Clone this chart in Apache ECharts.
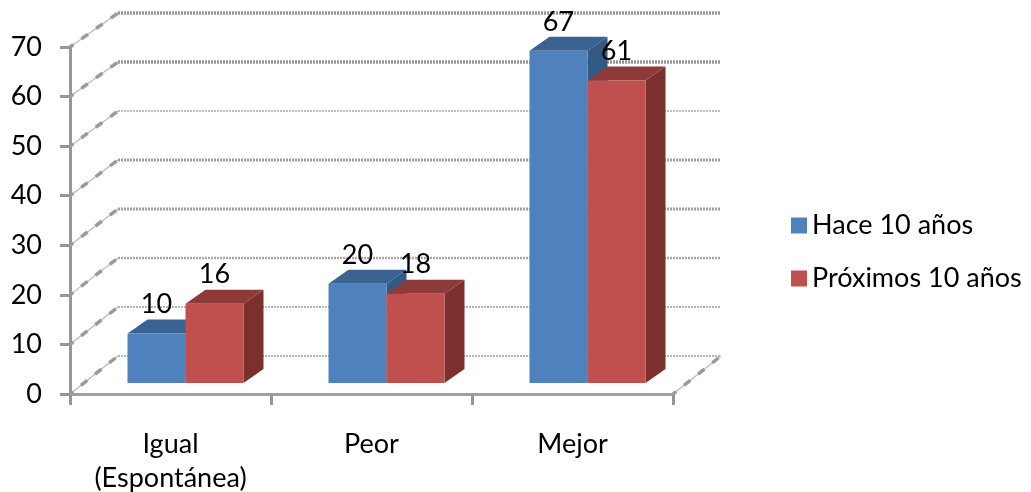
<!DOCTYPE html>
<html>
<head>
<meta charset="utf-8">
<style>html,body{margin:0;padding:0;background:#fff}#c{width:1031px;height:492px}</style>
<script src="https://cdn.jsdelivr.net/npm/echarts@6/dist/echarts.min.js"></script>
</head>
<body>
<div id="c"></div>
<script>
const categories = ["Igual\n(Espontánea)", "Peor", "Mejor"];
const hace = [10, 20, 67];
const proximos = [16, 18, 61];
const ticks = [0, 10, 20, 30, 40, 50, 60, 70];
const gridWidths = [2, 2, 2.5, 3, 3, 1.5, 3.5, 3.5];
const gridColors = ["#b4b4b4", "#b4b4b4", "#a8a8a8", "#a0a0a0", "#a0a0a0", "#a8a8a8", "#969696", "#969696"];

const FONT = "Lato";
const BACK = [48, -38], SHIFT = [15, -11], DEPTH = [20, -14], BAR = 58;
const BACK_SQUEEZE = 4 / 70;

function wall(params, api) {
  const i = params.dataIndex;
  const v = api.value(1);
  const band = api.size([1, 0])[0];
  const c0 = api.coord([0, v]);
  const x0 = c0[0] - band / 2;
  const y = c0[1];
  const x1 = x0 + band * categories.length;
  const yb = y + BACK[1] + v * BACK_SQUEEZE;
  const diag = (xa) => [
    { type: 'line', shape: { x1: xa, y1: y, x2: xa + BACK[0], y2: yb },
      style: { stroke: "#b8b8b8", lineWidth: 1.2 } },
    { type: 'line', shape: { x1: xa, y1: y, x2: xa + BACK[0], y2: yb },
      style: { stroke: "#9a9a9a", lineWidth: 3.5, lineDash: [8, 10], lineDashOffset: -14 } }
  ];
  const kids = [
    { type: 'line', shape: { x1: x0 + BACK[0], y1: yb, x2: x1 + BACK[0], y2: yb },
      style: { stroke: gridColors[i], lineWidth: gridWidths[i], lineDash: [2, 1] } }
  ].concat(diag(x0));
  if (v === 0) kids.push(...diag(x1));
  return { type: 'group', children: kids };
}

function bar3d(side, front, topC, sideC) {
  return function (params, api) {
    const idx = api.value(0), v = api.value(1);
    const top = api.coord([idx, v]);
    const base = api.coord([idx, 0]);
    const xa = top[0] + SHIFT[0] + (side < 0 ? -BAR : 0);
    const xb = xa + BAR;
    const yt = top[1] + SHIFT[1];
    const yb = base[1] + SHIFT[1];
    const dx = DEPTH[0], dy = DEPTH[1];
    return {
      type: 'group',
      children: [
        { type: 'polygon', shape: { points: [[xb, yt], [xb + dx, yt + dy], [xb + dx, yb + dy], [xb, yb]] }, style: { fill: sideC } },
        { type: 'polygon', shape: { points: [[xa, yt], [xa + dx, yt + dy], [xb + dx, yt + dy], [xb, yt]] }, style: { fill: topC } },
        { type: 'rect', shape: { x: xa, y: yt, width: BAR, height: yb - yt }, style: { fill: front } },
        { type: 'text', x: (xa + xb) / 2, y: yt - 29, z2: 10,
          style: { text: String(v), fill: "#000", font: "27px " + FONT, align: 'center', verticalAlign: 'middle' } }
      ]
    };
  };
}

const chart = echarts.init(document.getElementById('c'), null, { renderer: 'canvas' });
chart.setOption({
  animation: false,
  backgroundColor: "#fff",
  textStyle: { fontFamily: FONT },
  grid: { left: 70, top: 47, width: 603, height: 347, outerBoundsMode: 'none' },
  legend: {
    orient: 'vertical', left: 791, top: 212, padding: 0, itemWidth: 16, itemHeight: 16, itemGap: 26,
    textStyle: { fontFamily: FONT, fontSize: 27, color: "#000" },
    data: [{ name: "Hace 10 años", icon: 'rect' }, { name: "Próximos 10 años", icon: 'rect' }],
    selectedMode: false
  },
  xAxis: {
    type: 'category', data: categories,
    axisLine: { lineStyle: { color: "#a0a0a0", width: 3, type: [2, 1] } },
    axisTick: { show: true, alignWithLabel: false, length: 11, lineStyle: { color: "#969696", width: 3 } },
    axisLabel: { fontFamily: FONT, fontSize: 27, color: "#000", margin: 33, lineHeight: 34, interval: 0 },
    splitLine: { show: false }
  },
  yAxis: {
    type: 'value', min: 0, max: 70, interval: 10,
    axisLine: { show: true, lineStyle: { color: "#969696", width: 3 } },
    axisTick: { show: true, length: 10, lineStyle: { color: "#969696", width: 3 } },
    axisLabel: { fontFamily: FONT, fontSize: 27, color: "#000", margin: 28 },
    splitLine: { show: false }
  },
  series: [
    { type: 'custom', name: 'ejes', silent: true, z: 1, renderItem: wall,
      data: ticks.map(t => [0, t]), clip: false, legendHoverLink: false },
    { type: 'custom', name: "Hace 10 años", z: 2, clip: false,
      itemStyle: { color: "#4f81bd" },
      renderItem: bar3d(-1, "#4f81bd", "#3a6391", "#335a85"),
      data: hace.map((v, i) => [i, v]) },
    { type: 'custom', name: "Próximos 10 años", z: 3, clip: false,
      itemStyle: { color: "#c0504d" },
      renderItem: bar3d(1, "#c0504d", "#8e3a38", "#7b302e"),
      data: proximos.map((v, i) => [i, v]) }
  ]
});
</script>
</body>
</html>
